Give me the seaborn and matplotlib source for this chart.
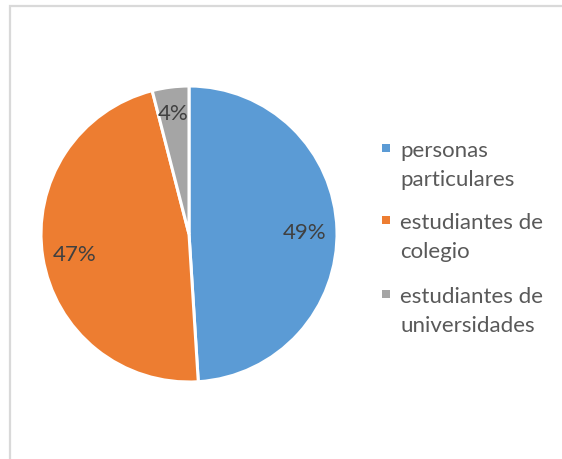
import matplotlib
matplotlib.use("Agg")
import matplotlib.pyplot as plt
import seaborn as sns
from matplotlib.patches import Rectangle

categories = ["personas particulares", "estudiantes de colegio", "estudiantes de universidades"]
legend_lines = [["personas", "particulares"], ["estudiantes de", "colegio"], ["estudiantes de", "universidades"]]
values = [49, 47, 4]
colors = ["#5B9BD5", "#ED7D31", "#A5A5A5"]

sns.set_theme(style="white")
plt.rcParams["font.family"] = ["Lato", "DejaVu Sans"]

W, H = 562, 460
fig = plt.figure(figsize=(W / 100, H / 100), dpi=100)
fig.patch.set_facecolor("white")

# chart-area border (left and top visible)
fig.add_artist(Rectangle((9.5 / W, -0.1), 1.2, 1.1 - 7 / H, transform=fig.transFigure,
                         fill=False, edgecolor="#D9D9D9", linewidth=1.6))

cx, cy, r = 189, 235, 148
ax = fig.add_axes([(cx - r) / W, (H - cy - r) / H, 2 * r / W, 2 * r / H])
wedges, texts, autotexts = ax.pie(
    values, colors=colors, startangle=90, counterclock=False,
    autopct="%1.0f%%", pctdistance=0.78,
    wedgeprops=dict(edgecolor="white", linewidth=2.2),
    textprops=dict(color="#404040", fontsize=16),
)
for t in autotexts:
    t.set_va("center_baseline")
# small slice label sits a bit further out
x, y = autotexts[2].get_position()
autotexts[2].set_position((x * 0.84 / 0.78, y * 0.84 / 0.78))
ax.set_xlim(-1, 1)
ax.set_ylim(-1, 1)
ax.set_aspect("equal")
ax.axis("off")

# legend
baselines = [(157, 186), (229, 258), (303, 332)]
for (b1, b2), lines, col in zip(baselines, legend_lines, colors):
    fig.add_artist(Rectangle((382 / W, (H - b1 + 4) / H), 8 / W, 8 / H,
                             transform=fig.transFigure, facecolor=col, edgecolor="none"))
    for b, line in zip((b1, b2), lines):
        fig.text(400 / W, (H - b) / H, line, ha="left", va="baseline", fontsize=16,
                 color="#595959")

fig.savefig("out.png", dpi=100, facecolor="white")
